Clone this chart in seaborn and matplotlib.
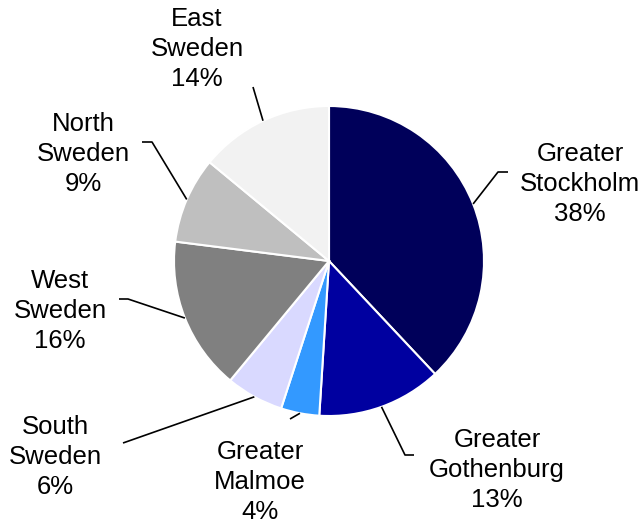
import numpy as np
import matplotlib
matplotlib.use("Agg")
import matplotlib.pyplot as plt
import seaborn as sns

# ---- data ----
regions = ["Greater\nStockholm", "Greater\nGothenburg", "Greater\nMalmoe",
           "South\nSweden", "West\nSweden", "North\nSweden", "East\nSweden"]
shares = [38, 13, 4, 6, 16, 9, 14]
colors = ["#00005A", "#0000A0", "#3399FF", "#D9D9FF", "#808080", "#BFBFBF", "#F2F2F2"]

# ---- layout (image pixel coords, y downward) ----
label_pos = [(580, 184), (497, 470), (260, 482), (55, 457), (60, 311), (83, 154), (197, 49)]
leader_pts = [
    [(498, 172), (508, 172)],
    [(405, 455), (414, 455)],
    [(290, 419)],
    [(123, 443)],
    [(128, 299), (119, 299)],
    [(152, 142), (142, 142)],
    [(253, 87)],
]

W, H = 642, 523
sns.set_theme(style="white")
plt.rcParams['font.family'] = ['Liberation Sans', 'DejaVu Sans']

fig = plt.figure(figsize=(W / 100, H / 100), dpi=100)
ax = fig.add_axes([0, 0, 1, 1])

cx, cy, r = 329, H - 261, 155
wedges, _ = ax.pie(shares, colors=colors, startangle=90, counterclock=False,
                   center=(cx, cy), radius=r, frame=True,
                   wedgeprops=dict(edgecolor="white", linewidth=1.5))
ax.set_xlim(0, W)
ax.set_ylim(0, H)
ax.set_aspect("equal")
ax.axis("off")

for w, name, val, (lx, ly), pts in zip(wedges, regions, shares, label_pos, leader_pts):
    mid = np.deg2rad((w.theta1 + w.theta2) / 2)
    x0, y0 = cx + r * np.cos(mid), cy + r * np.sin(mid)
    xs = [x0] + [p[0] for p in pts]
    ys = [y0] + [H - p[1] for p in pts]
    ax.plot(xs, ys, color="black", lw=1.2, solid_capstyle="butt", zorder=3)
    ax.text(lx, H - ly, f"{name}\n{val}%", ha="center", va="center",
            fontsize=18.5, color="black", linespacing=1.32)

fig.savefig("out.png", dpi=100)
